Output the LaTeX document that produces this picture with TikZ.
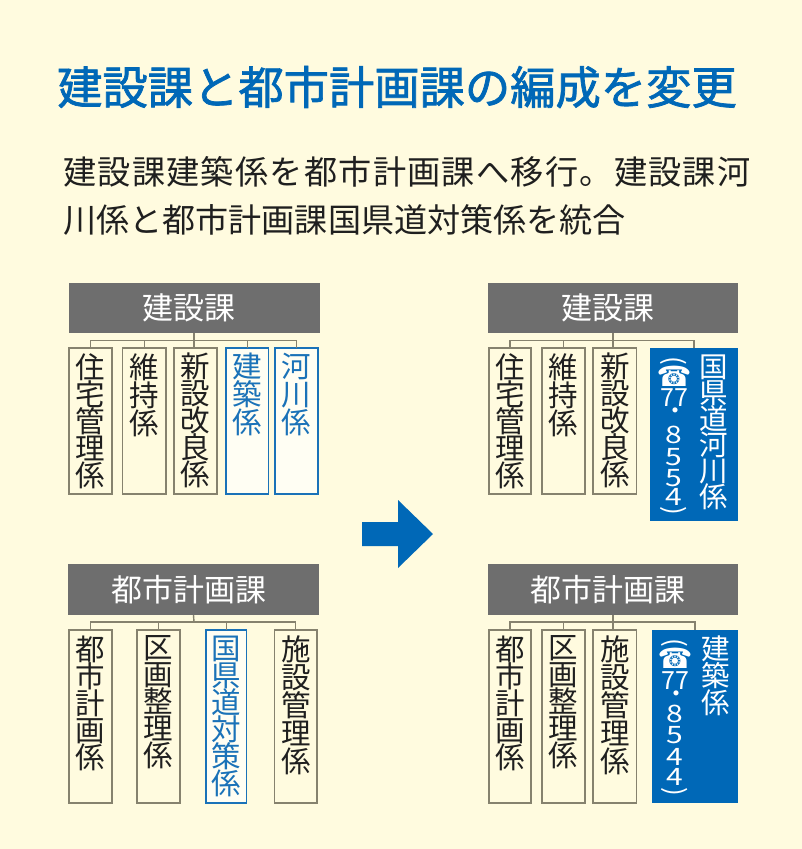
\documentclass[tikz,border=0pt]{standalone}
\usepackage{fontspec}
\setmainfont{Noto Sans CJK JP}
\newfontfamily\symfont{DejaVu Sans}
\newfontfamily\titlefont[FakeBold=1.6]{Noto Sans CJK JP}
\newfontfamily\leadfont[LetterSpace=3.7]{Noto Sans CJK JP}
\definecolor{bg}{HTML}{FFFBDF}
\definecolor{hd}{HTML}{6E6E6E}
\definecolor{ln}{HTML}{86826E}
\definecolor{blu}{HTML}{0068B7}
\definecolor{blt}{HTML}{1A72B8}
\definecolor{inner}{HTML}{FFFEF3}
\newcommand{\rectnode}[7][]{% style, name, x1,y1,x2,y2, text
  \node[#1, anchor=north west, minimum width={(#5-#3)*1pt}, minimum height={(#6-#4)*1pt}] (#2) at (#3,#4) {#7};}
\newcommand{\tf}[1]{\fontsize{29.5}{#1}\selectfont\lineskiplimit=-100pt\relax}
\newcommand{\tw}[1]{\fontsize{28.5}{#1}\selectfont\lineskiplimit=-100pt\relax}
\newcommand{\wdg}[1]{\scalebox{1.25}[1]{#1}}
\tikzset{
  x=1pt,y=-1pt,
  hdbox/.style={fill=hd,draw=none,inner sep=0pt,outer sep=0pt,text=white,font=\fontsize{31}{31}\selectfont},
  plain/.style={draw=ln,line width=1.5pt,fill=bg,inner sep=0pt,outer sep=0pt},
  mark blue/.style={draw=blt,line width=1.5pt,fill=inner,inner sep=0pt,outer sep=0pt},
  solid blue/.style={draw=none,fill=blu,inner sep=0pt,outer sep=0pt},
  tate/.style={anchor=north,align=center,inner sep=0pt,font=\tf{27},text=black!88},
  tateblue/.style={tate,text=blt},
  tatewhite/.style={tate,text=white,font=\tw{26}},
  tel/.style={text=white,inner sep=0pt,font=\fontsize{24}{24}\selectfont},
  wire/.style={draw=ln,line width=1.4pt},
}
\begin{document}
\begin{tikzpicture}
\useasboundingbox (0,0) rectangle (802,849);
\fill[bg] (0,0) rectangle (802,849);
% title and lead
\node[anchor=center,inner sep=0pt,text=blu,font=\fontsize{45.3}{45.3}\titlefont] (title) at (397,87) {建設課と都市計画課の編成を変更};
\node[anchor=west,inner sep=0pt,text=black!88,font=\fontsize{33.2}{33.2}\leadfont] (lead1) at (63,172) {建設課建築係を都市計画課へ移行。建設課河};
\node[anchor=west,inner sep=0pt,text=black!88,font=\fontsize{33.1}{33.1}\selectfont] (lead2) at (63,220) {川係と都市計画課国県道対策係を統合};

% ---- top left
\rectnode[hdbox]{ha}{68.5}{283}{319.5}{333}{建設課\kern10pt}
\rectnode[plain]{a1}{69}{348}{112}{494}{}
\rectnode[plain]{a2}{122.5}{348}{166}{494}{}
\rectnode[plain]{a3}{174}{348}{217}{494}{}
\rectnode[mark blue]{a4}{226}{348}{268.5}{494}{}
\rectnode[mark blue]{a5}{275}{348}{318}{494}{}
\node[tate] (ta1) at ([yshift=-5pt]a1.north) {住\\宅\\管\\理\\係};
\node[tate,font=\tf{28}] (ta2) at ([yshift=-5pt]a2.north) {維\\持\\係};
\node[tate] (ta3) at ([yshift=-5pt]a3.north) {新\\設\\改\\良\\係};
\node[tateblue,font=\tf{28}] (ta4) at ([yshift=-5pt]a4.north) {建\\築\\係};
\node[tateblue,font=\tf{28}] (ta5) at ([yshift=-5pt]a5.north) {河\\川\\係};
\coordinate (abus) at (194,340.5);
\draw[wire] (ha.south) -- (ha.south |- a3.north);
\draw[wire] (a1.north) |- (abus);
\draw[wire] (a2.north) |- (abus);
\draw[wire] (a5.north) |- (abus);
\draw[wire] (a4.north) |- (abus);

% ---- bottom left
\rectnode[hdbox]{hb}{68}{564}{319}{615}{都市計画課\kern10pt}
\rectnode[plain]{b1}{69}{630}{112}{803}{}
\rectnode[plain]{b2}{137}{630}{180}{803}{}
\rectnode[mark blue]{b3}{206}{630}{246.5}{803}{}
\rectnode[plain]{b4}{274.5}{630}{317}{803}{}
\node[tate] (tb1) at ([yshift=-5.5pt]b1.north) {都\\市\\計\\画\\係};
\node[tate] (tb2) at ([yshift=-5.5pt]b2.north) {区\\画\\整\\理\\係};
\node[tateblue] (tb3) at ([yshift=-5.5pt]b3.north) {国\\県\\道\\対\\策\\係};
\node[tate,font=\tf{28}] (tb4) at ([yshift=-5.5pt]b4.north) {施\\設\\管\\理\\係};
\coordinate (bbus) at (194,622);
\draw[wire] (hb.south) -- (bbus);
\draw[wire] (b1.north) |- (bbus);
\draw[wire] (b2.north) |- (bbus);
\draw[wire] (b3.north) |- (bbus);
\draw[wire] (b4.north) |- (bbus);

% ---- arrow
\fill[blu] (362,522) -- (398,522) -- (398,500) -- (433,534) -- (398,568) -- (398,546) -- (362,546) -- cycle;

% ---- top right
\rectnode[hdbox]{hc}{488}{283}{738}{333}{建設課\kern10pt}
\rectnode[plain]{c1}{489}{348}{531}{494}{}
\rectnode[plain]{c2}{542}{348}{585}{494}{}
\rectnode[plain]{c3}{593}{348}{636.5}{494}{}
\rectnode[solid blue]{c4}{650}{348}{738}{521}{}
\node[tate] (tc1) at ([yshift=-5pt]c1.north) {住\\宅\\管\\理\\係};
\node[tate,font=\tf{28}] (tc2) at ([yshift=-5pt]c2.north) {維\\持\\係};
\node[tate] (tc3) at ([yshift=-5pt]c3.north) {新\\設\\改\\良\\係};
\node[tatewhite] (tc4) at (714,355) {国\\県\\道\\河\\川\\係};
\coordinate (cbus) at (613,340.5);
\draw[wire] (hc.south) -- (hc.south |- c3.north);
\draw[wire] (c1.north) |- (cbus);
\draw[wire] (c2.north) |- (cbus);
\draw[wire] (c4.north) |- (cbus);
\node[tel,rotate=-90,font=\fontsize{26}{26}\selectfont] (cp1) at (674,361) {(};
\node[tel,font=\symfont\fontsize{28}{28}\selectfont] (cp2) at (674,376) {☎};
\node[tel,font=\fontsize{25}{25}\selectfont] (cp3) at (674,398) {77};
\node[tel] (cp4) at (675,414) {・};
\node[tel] (cp5) at (674,435) {\wdg{8}};
\node[tel] (cp6) at (674,457) {\wdg{5}};
\node[tel] (cp7) at (674,478) {\wdg{5}};
\node[tel] (cp8) at (674,497) {\wdg{4}};
\node[tel,rotate=-90,font=\fontsize{26}{26}\selectfont] (cp9) at (674,511) {)};

% ---- bottom right
\rectnode[hdbox]{hd}{488}{564}{738}{615}{都市計画課\kern10pt}
\rectnode[plain]{d1}{489}{630}{531}{803}{}
\rectnode[plain]{d2}{542}{630}{585}{803}{}
\rectnode[plain]{d3}{593}{630}{636.5}{803}{}
\rectnode[solid blue]{d4}{652}{630}{738}{803}{}
\node[tate] (td1) at ([yshift=-5.5pt]d1.north) {都\\市\\計\\画\\係};
\node[tate] (td2) at ([yshift=-5.5pt]d2.north) {区\\画\\整\\理\\係};
\node[tate,font=\tf{28}] (td3) at ([yshift=-5.5pt]d3.north) {施\\設\\管\\理\\係};
\node[tatewhite,font=\tw{27}] (td4) at (716,636) {建\\築\\係};
\coordinate (dbus) at (613,622);
\draw[wire] (hd.south) -- (hd.south |- d3.north);
\draw[wire] (d1.north) |- (dbus);
\draw[wire] (d2.north) |- (dbus);
\draw[wire] (d4.north) |- (dbus);
\node[tel,rotate=-90,font=\fontsize{26}{26}\selectfont] (dp1) at (675,643) {(};
\node[tel,font=\symfont\fontsize{28}{28}\selectfont] (dp2) at (675,658) {☎};
\node[tel,font=\fontsize{25}{25}\selectfont] (dp3) at (675,681) {77};
\node[tel] (dp4) at (676,697) {・};
\node[tel] (dp5) at (675,714) {\wdg{8}};
\node[tel] (dp6) at (675,735) {\wdg{5}};
\node[tel] (dp7) at (675,757) {\wdg{4}};
\node[tel] (dp8) at (675,777) {\wdg{4}};
\node[tel,rotate=-90,font=\fontsize{26}{26}\selectfont] (dp9) at (675,792) {)};
\end{tikzpicture}
\end{document}
